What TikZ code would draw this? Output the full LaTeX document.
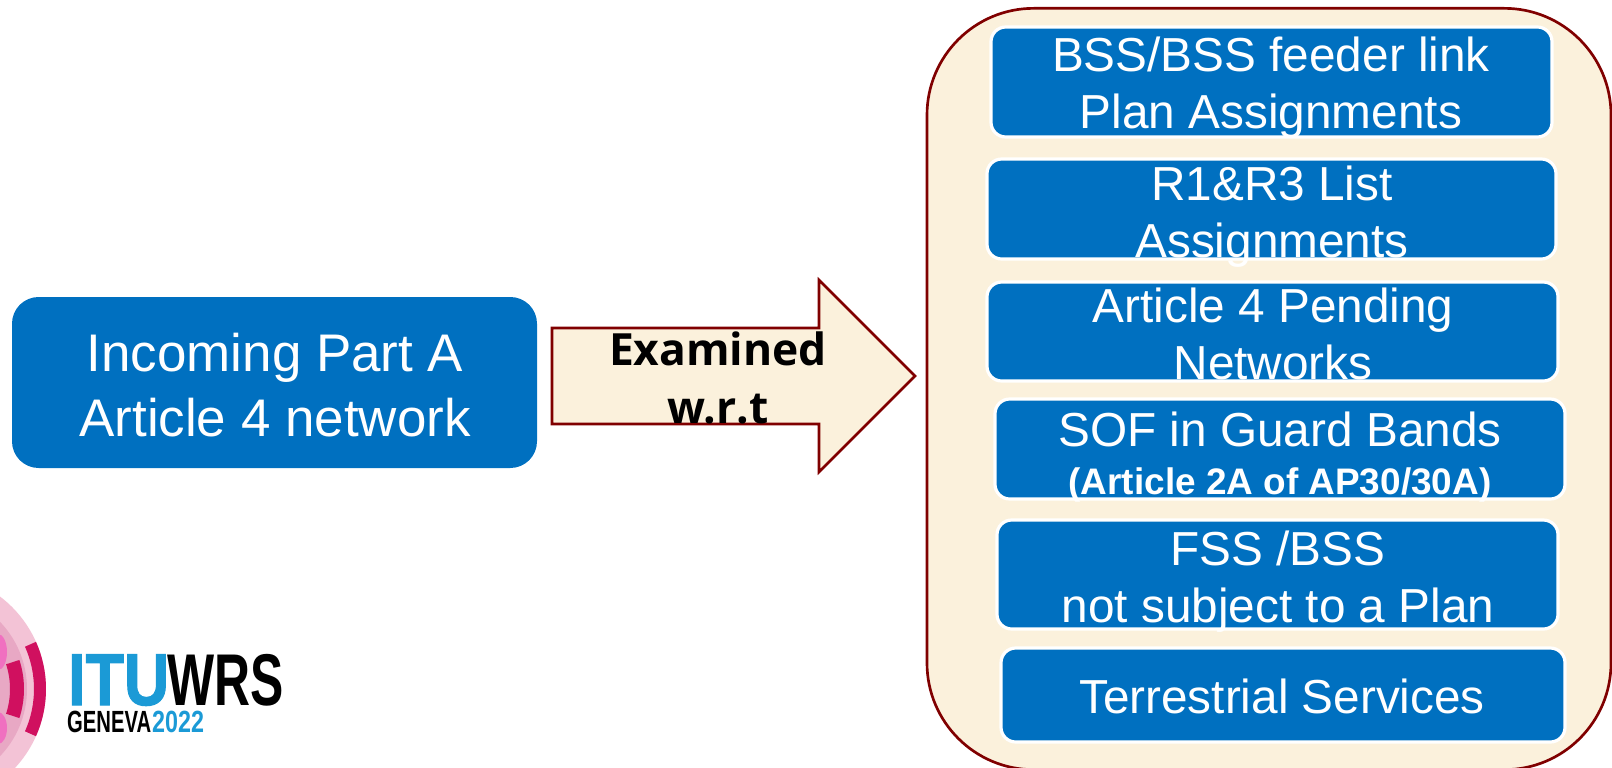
\documentclass[tikz,border=0pt]{standalone}
\usepackage{fontspec}
\setmainfont{Liberation Sans}
\newfontfamily\tahomalike{Open Sans}
\newfontfamily\logoheavy[FakeBold=1.6]{Liberation Sans Bold}
\definecolor{itublue}{HTML}{0070C0}
\definecolor{panelcream}{HTML}{FBF1DC}
\definecolor{panelred}{HTML}{800000}
\definecolor{logoblue}{HTML}{1B9AD6}
\definecolor{logopink}{HTML}{D0105F}
\definecolor{logopale}{HTML}{F3C3D6}
\definecolor{logomid}{HTML}{E8A8C4}
\definecolor{logobright}{HTML}{F070C0}
\tikzset{
  bluebox/.style={fill=itublue,draw=white,line width=2.4pt,rounded corners=11pt,inner sep=0pt},
  boxtext/.style={text=white,align=center,anchor=base,inner sep=0pt,font=\fontsize{35.8}{42.7}\selectfont},
  examtext/.style={text=black,align=center,anchor=base,inner sep=0pt,font=\tahomalike\bfseries\fontsize{33.3}{43.5}\selectfont},
  logotext/.style={anchor=base west,inner sep=0pt,transform shape},
}
\newcommand{\boxat}[6][]{% options name x1 y1 x2 y2
  \path let \n1={(#3+#5)/2},\n2={(#4+#6)/2} in
  node[bluebox,#1,minimum width=(#5-#3)*0.75pt,minimum height=(#6-#4)*0.75pt] (#2) at (\n1,\n2) {};}
\usetikzlibrary{calc}
\begin{document}
\begin{tikzpicture}[x=0.75pt,y=-0.75pt]
\useasboundingbox (0,0) rectangle (1612,767);
\begin{scope}
\clip (0,0) rectangle (1612,767);
% panel
\node[fill=panelcream,draw=panelred,line width=2pt,rounded corners=80pt,minimum width=513pt,minimum height=571pt,inner sep=0pt] (panel) at (1269,389) {};
% logo
\fill[logopale] (-70,689) circle (116);
\fill[logomid] (-70,689) circle (97);
\fill[logobright] (-2,652) ellipse (9 and 18);
\fill[logobright] (-2,728) ellipse (9 and 16);
\fill[logopink] (-70,689) ++(-24:104) arc (-24:24:104) -- ++(24:12) arc (24:-24:116) -- cycle;
\fill[logopink] (-70,689) ++(-18:80) arc (-18:18:80) -- ++(18:14) arc (18:-18:94) -- cycle;
\end{scope}
\boxat[draw=none,rounded corners=20pt]{incoming}{12}{297}{537}{468}
\node[boxtext,font=\fontsize{39.7}{48.4}\selectfont] (incomingtext) at (275,436) {Incoming Part A\\Article 4 network};
% arrow
\coordinate (arrowtail) at (552,376);
\coordinate (arrowtip) at (915,376);
\draw[fill=panelcream,draw=panelred,line width=2pt,line join=miter]
  (arrowtail |- 0,328) -- (819,328) -- (819,280) -- (arrowtip) -- (819,472) -- (819,424) -- (arrowtail |- 0,424) -- cycle;
\node[examtext] (examined) at (718,423) {Examined\\w.r.t};
% boxes
\boxat{b1}{991}{27}{1552}{137}
\boxat{b2}{987}{159}{1556}{259}
\boxat{b3}{987}{282}{1558}{381}
\boxat{b4}{995}{399}{1565}{499}
\boxat{b5}{997}{520}{1558}{629}
\boxat{b6}{1001}{648}{1565}{742}
\node[boxtext] (t1) at (1271,128) {BSS/BSS feeder link\\Plan Assignments};
\node[boxtext] (t2) at (1272,257) {R1\&R3 List\\Assignments};
\node[boxtext] (t3) at (1273,379) {Article 4 Pending\\Networks};
\node[boxtext] (t4a) at (1280,446) {SOF in Guard Bands};
\node[boxtext,font=\bfseries\fontsize{27.7}{32}\selectfont] (t4b) at (1280,494) {(Article 2A of AP30/30A)};
\node[boxtext] (t5) at (1278,622) {FSS /BSS\\not subject to a Plan};
\node[boxtext] (t6) at (1282,713) {Terrestrial Services};
% logo text
\node[logotext,xscale=.855,text=logoblue,font=\logoheavy\fontsize{55}{55}\selectfont] (itu) at (68,705) {ITU};
\node[logotext,xscale=.68,text=black,font=\bfseries\fontsize{55}{55}\selectfont] (wrs) at (167,705) {WRS};
\node[logotext,xscale=.66,text=black,font=\bfseries\fontsize{23}{23}\selectfont] (geneva) at (67,732) {GENEVA};
\node[logotext,xscale=.76,text=logoblue,font=\bfseries\fontsize{23}{23}\selectfont] (year) at (152,732) {2022};
\end{tikzpicture}
\end{document}
